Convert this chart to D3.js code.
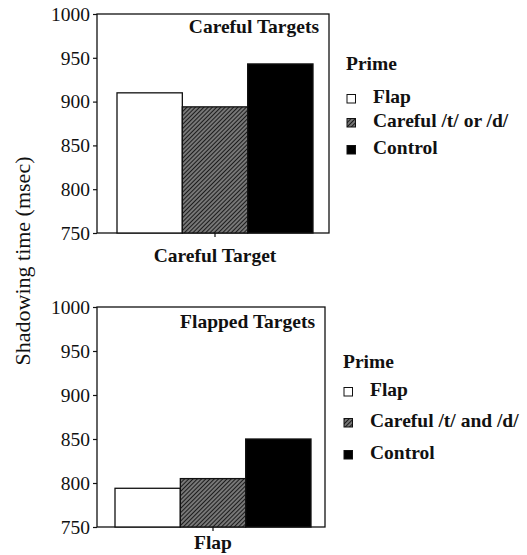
<!DOCTYPE html>
<html>
<head>
<meta charset="utf-8">
<script src="https://cdn.jsdelivr.net/npm/d3@7"></script>
<style>
  body { margin: 0; background: #fff; }
  svg text { font-family: "Liberation Serif", "Times New Roman", Tinos, "DejaVu Serif", serif; fill: #111; }
  .bold { font-weight: bold; font-size: 19.5px; }
</style>
</head>
<body>
<svg width="527" height="555"></svg>
<script>
// data
var primes = ["Flap", "Careful", "Control"];
var carefulValues = [910, 894, 943];
var flappedValues = [794, 805, 850];
var yTicks = [750, 800, 850, 900, 950, 1000];
var carefulLegend = ["Flap", "Careful /t/ or /d/", "Control"];
var flappedLegend = ["Flap", "Careful /t/ and /d/", "Control"];

var serif = '"Liberation Serif", "Times New Roman", Tinos, "DejaVu Serif", serif';
var svg = d3.select("svg").attr("font-family", serif);

// hatch pattern for the careful prime
var defs = svg.append("defs");
var pat = defs.append("pattern")
  .attr("id", "hatch")
  .attr("patternUnits", "userSpaceOnUse")
  .attr("width", 3).attr("height", 3)
  .attr("patternTransform", "rotate(45)");
pat.append("rect").attr("width", 3).attr("height", 3).attr("fill", "#777");
pat.append("line").attr("x1", 0).attr("y1", 0).attr("x2", 0).attr("y2", 3)
  .attr("stroke", "#111").attr("stroke-width", 1.8);

var fills = ["#fff", "url(#hatch)", "#000"];

function drawPanel(cfg) {
  var g = svg.append("g").attr("transform", `translate(${cfg.left}, ${cfg.top})`);
  var width = cfg.width, height = cfg.height;

  var y = d3.scaleLinear().domain([750, 1000]).range([height, 0]);
  var x = d3.scaleBand().domain(primes).range([cfg.barStart, cfg.barEnd]).padding(0);

  // frame
  g.append("rect").attr("width", width).attr("height", height)
    .attr("fill", "none").attr("stroke", "#111").attr("stroke-width", 1.3);

  // bars
  g.selectAll(".bar")
    .data(cfg.values)
    .enter()
    .append("rect")
    .attr("x", (d, i) => x(primes[i]))
    .attr("y", d => y(d))
    .attr("width", x.bandwidth())
    .attr("height", d => height - y(d))
    .attr("fill", (d, i) => fills[i])
    .attr("stroke", "#111")
    .attr("stroke-width", 1.3);

  // y axis
  var ya = g.append("g")
    .call(d3.axisLeft(y).tickValues(yTicks).tickFormat(d3.format("d")).tickSize(4).tickPadding(3));
  ya.attr("font-family", serif).attr("font-size", 19.5);
  ya.select(".domain").remove();
  ya.selectAll(".tick line").attr("stroke", "#111").attr("stroke-width", 1.2);
  ya.selectAll(".tick text").style("font-family", serif).style("font-size", "19.5px");

  // x tick
  var mid = (cfg.barStart + cfg.barEnd) / 2;
  g.append("line").attr("x1", mid).attr("x2", mid).attr("y1", height).attr("y2", height + 4)
    .attr("stroke", "#111").attr("stroke-width", 1.2);

  g.append("text").attr("class", "bold")
    .attr("x", width - 10).attr("y", cfg.titleY)
    .attr("text-anchor", "end")
    .text(cfg.title);

  g.append("text").attr("class", "bold")
    .attr("x", mid).attr("y", height + cfg.xlabelDy)
    .attr("text-anchor", "middle")
    .text(cfg.xlabel);

  // legend
  var lg = svg.append("g").attr("transform", `translate(${cfg.legX}, 0)`);
  lg.append("text").attr("class", "bold").attr("x", 0).attr("y", cfg.legBase[0]).text("Prime");
  cfg.legend.forEach(function(name, i) {
    var base = cfg.legBase[i + 1];
    lg.append("rect").attr("x", 1).attr("y", base - 8.5).attr("width", 8.5).attr("height", 8.5)
      .attr("fill", fills[i]).attr("stroke", "#111").attr("stroke-width", 1);
    lg.append("text").attr("class", "bold").attr("x", cfg.textDx).attr("y", base).text(name);
  });
}

drawPanel({
  left: 97, top: 14, width: 232, height: 219,
  barStart: 20, barEnd: 216,
  values: carefulValues, title: "Careful Targets", titleY: 19,
  xlabel: "Careful Target", xlabelDy: 29,
  legX: 346, legBase: [70, 103, 127, 154], textDx: 27, legend: carefulLegend
});

drawPanel({
  left: 97, top: 307, width: 228, height: 220,
  barStart: 18, barEnd: 214,
  values: flappedValues, title: "Flapped Targets", titleY: 21,
  xlabel: "Flap", xlabelDy: 22,
  legX: 343, legBase: [368, 396, 427, 459], textDx: 27, legend: flappedLegend
});

// shared y label
svg.append("text")
  .attr("transform", "translate(30, 261) rotate(-90)")
  .attr("text-anchor", "middle")
  .style("font-size", "22px")
  .text("Shadowing time (msec)");
</script>
</body>
</html>
